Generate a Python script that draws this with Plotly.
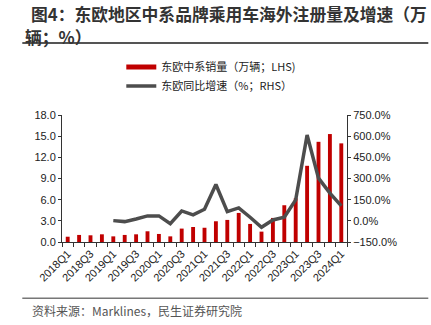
import plotly.graph_objects as go

categories = ["2018Q1","2018Q2","2018Q3","2018Q4","2019Q1","2019Q2","2019Q3","2019Q4",
              "2020Q1","2020Q2","2020Q3","2020Q4","2021Q1","2021Q2","2021Q3","2021Q4",
              "2022Q1","2022Q2","2022Q3","2022Q4","2023Q1","2023Q2","2023Q3","2023Q4","2024Q1"]
sales = [0.75, 1.0, 0.95, 1.09, 0.8, 1.0, 1.09, 1.52, 1.14, 0.8, 1.9, 2.13, 2.02,
         2.94, 3.13, 4.12, 2.56, 1.47, 3.41, 5.21, 6.2, 10.8, 14.2, 15.3, 13.98]
growth = [None, None, None, None, 1.5, -5.5, 13.5, 35, 35, -19.6, 70, 42, 82,
          257.5, 65.6, 91.7, 25.4, -45.7, 6.4, 25, 148.6, 608, 302.6, 196, 106]
tick_text = [c if i % 2 == 0 else "" for i, c in enumerate(categories)]

name_bar = "东欧中系销量（万辆；LHS)"
name_line = "东欧同比增速（%；RHS）"
title_1 = "图4：东欧地区中系品牌乘用车海外注册量及增速（万"
title_2 = "辆；%）"
source = "资料来源：Marklines，民生证券研究院"

RED = "#C00000"
GRAY = "#4D4D4D"
CJK = "Noto Sans CJK SC"
LAT = "Liberation Sans, Arial, " + CJK

PL, PR, PT, PB = 61.7, 346.7, 115.3, 242.0
PW, PH = PR - PL, PB - PT


def px(x):
    return (x - PL) / PW


def py(y):
    return (PB - y) / PH


fig = go.Figure()
fig.add_trace(go.Bar(x=categories, y=sales, marker=dict(color=RED, line=dict(width=0)),
                     showlegend=False, yaxis="y"))
fig.add_trace(go.Scatter(x=categories, y=growth, mode="lines", line=dict(color=GRAY, width=3.5),
                         showlegend=False, yaxis="y2", connectgaps=False))
# legend entries
fig.add_trace(go.Scatter(x=[None], y=[None], mode="lines", line=dict(color=RED, width=5),
                         name=name_bar, legendgroup="a"))
fig.add_trace(go.Scatter(x=[None], y=[None], mode="lines", line=dict(color=GRAY, width=3.5),
                         name=name_line, legendgroup="b"))

fig.update_layout(
    width=431, height=325,
    margin=dict(l=PL, r=431 - PR, t=PT, b=325 - PB, pad=0, autoexpand=False),
    paper_bgcolor="white", plot_bgcolor="white",
    bargap=0.66,
    font=dict(family=LAT, size=11, color="#222"),
    xaxis=dict(type="category", tickvals=categories, ticktext=tick_text, tickson="boundaries",
               tickangle=-45, ticks="outside", ticklen=4, tickcolor="#333",
               showline=True, linecolor="#333", linewidth=1, showgrid=False,
               tickfont=dict(size=11, family=LAT), automargin=False),
    yaxis=dict(range=[0, 18], dtick=3, tickformat=".1f", ticks="outside", ticklen=3,
               tickcolor="#333", showline=True, linecolor="#333", linewidth=1,
               showgrid=False, zeroline=False, tickfont=dict(size=11), automargin=False),
    yaxis2=dict(range=[-150, 750], dtick=150, tickformat=".1f", ticksuffix="%",
                overlaying="y", side="right", ticks="outside", ticklen=3, tickcolor="#333",
                showline=True, linecolor="#333", linewidth=1, showgrid=False, zeroline=False,
                tickfont=dict(size=11), automargin=False),
    legend=dict(x=px(121), y=py(53), xanchor="left", yanchor="top", bgcolor="rgba(0,0,0,0)",
                font=dict(family=CJK, size=11, color="#222"), tracegroupgap=7,
                traceorder="normal"),
    shapes=[
        dict(type="line", xref="paper", yref="paper", x0=px(22), x1=px(428),
             y0=py(43.5), y1=py(43.5), line=dict(color="#555", width=2)),
        dict(type="line", xref="paper", yref="paper", x0=px(22), x1=px(428),
             y0=py(298), y1=py(298), line=dict(color="#777", width=1.5)),
    ],
    annotations=[
        dict(text="<b>" + title_1 + "</b>", xref="paper", yref="paper",
             x=px(229), y=py(15), xanchor="center", yanchor="middle",
             showarrow=False,
             font=dict(family=CJK, size=16.8, color="#333")),
        dict(text="<b>" + title_2 + "</b>", xref="paper", yref="paper",
             x=px(58), y=py(37), xanchor="center", yanchor="middle",
             showarrow=False,
             font=dict(family=CJK, size=16.8, color="#333")),
        dict(text=source, xref="paper", yref="paper",
             x=px(30), y=py(310.3), xanchor="left", yanchor="middle",
             showarrow=False, font=dict(family=CJK, size=12, color="#555")),
    ],
)

fig.write_html("out.html")
